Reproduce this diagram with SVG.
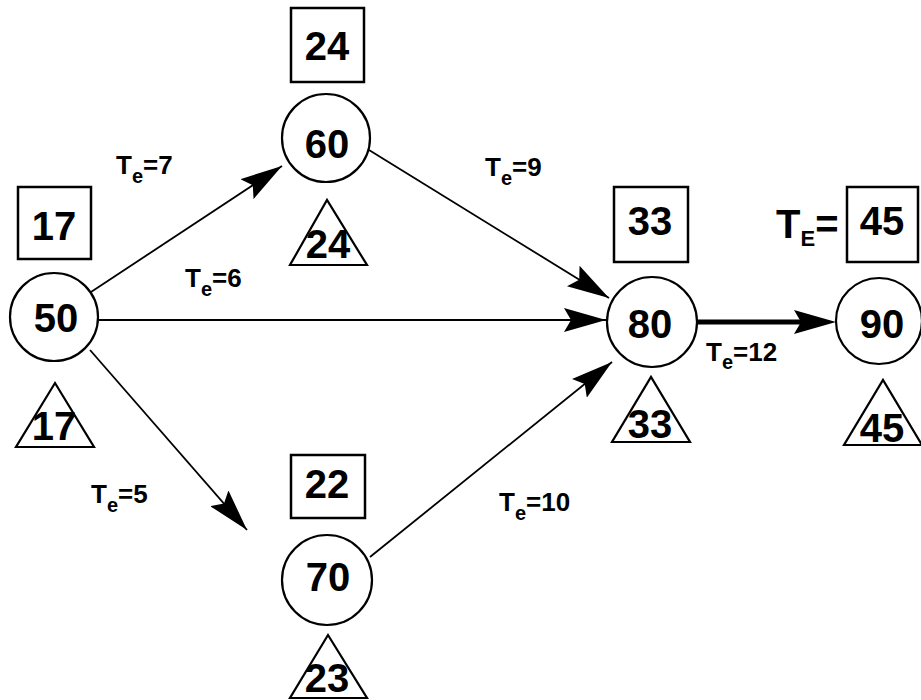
<svg xmlns="http://www.w3.org/2000/svg" width="921" height="700" viewBox="0 0 921 700">
<style>
.c{fill:#fff;stroke:#000;stroke-width:2.2}
.b{fill:#fff;stroke:#000;stroke-width:2.5}
.t{fill:none;stroke:#000;stroke-width:2.2;stroke-linejoin:miter}
.n{font-family:"Liberation Sans",Arial,sans-serif;font-weight:bold;font-size:40px;text-anchor:middle;fill:#000}
.l{font-family:"Liberation Sans",Arial,sans-serif;font-weight:bold;font-size:26px;fill:#000}
.s{font-size:20px}
.e{stroke:#000;stroke-width:1.8;fill:none}
</style>
<defs>
<marker id="ah" viewBox="0 0 42 24" refX="42" refY="12" markerWidth="42" markerHeight="24" markerUnits="userSpaceOnUse" orient="auto">
<path d="M0,0 L42,12 L0,24 L7,12 Z" fill="#000"/>
</marker>
<marker id="ah2" viewBox="0 0 42 24" refX="22" refY="12" markerWidth="42" markerHeight="24" markerUnits="userSpaceOnUse" orient="auto">
<path d="M0,0 L42,12 L0,24 L7,12 Z" fill="#000"/>
</marker>
</defs>
<g id="connectors">
<line class="e" x1="91" y1="292" x2="282" y2="166" marker-end="url(#ah)"/>
<line class="e" x1="369" y1="150" x2="609" y2="298" marker-end="url(#ah)"/>
<line class="e" x1="99" y1="320" x2="606" y2="320" marker-end="url(#ah)"/>
<line class="e" x1="90" y1="350" x2="247" y2="530" marker-end="url(#ah)"/>
<line class="e" x1="370" y1="557" x2="612" y2="362" marker-end="url(#ah)"/>
<line class="e" style="stroke-width:5" x1="697" y1="322" x2="816" y2="322" marker-end="url(#ah2)"/>
<text class="l" x="116" y="174">T<tspan class="s" dy="9">e</tspan><tspan dy="-9">=7</tspan></text>
<text class="l" x="485" y="176">T<tspan class="s" dy="9">e</tspan><tspan dy="-9">=9</tspan></text>
<text class="l" x="185" y="287">T<tspan class="s" dy="9">e</tspan><tspan dy="-9">=6</tspan></text>
<text class="l" x="91" y="503">T<tspan class="s" dy="9">e</tspan><tspan dy="-9">=5</tspan></text>
<text class="l" x="499" y="511">T<tspan class="s" dy="9">e</tspan><tspan dy="-9">=10</tspan></text>
<text class="l" x="706" y="361">T<tspan class="s" dy="8">e</tspan><tspan dy="-8">=12</tspan></text>
</g>
<g id="node50">
<rect class="b" x="18" y="187" width="73" height="72"/>
<text class="n" x="54" y="240">17</text>
<circle class="c" cx="54" cy="317" r="44"/>
<text class="n" x="56" y="332">50</text>
<polygon class="t" points="16,447 94,447 55,383"/>
<text class="n" x="54" y="440">17</text>
</g>
<g id="node60">
<rect class="b" x="291" y="8" width="73" height="74"/>
<text class="n" x="327" y="60">24</text>
<circle class="c" cx="326" cy="138" r="44"/>
<text class="n" x="327" y="158">60</text>
<polygon class="t" points="290,265 367,265 327,200"/>
<text class="n" x="328" y="258">24</text>
</g>
<g id="node80">
<rect class="b" x="614" y="187" width="74" height="75"/>
<text class="n" x="650" y="235">33</text>
<circle class="c" cx="652" cy="322" r="45"/>
<text class="n" x="650" y="338">80</text>
<polygon class="t" points="612,442 690,442 651,377"/>
<text class="n" x="650" y="438">33</text>
</g>
<g id="node90">
<text class="n" x="776" y="238" style="text-anchor:start">T<tspan style="font-size:22px" dy="8">E</tspan><tspan dy="-8">=</tspan></text>
<rect class="b" x="847" y="187" width="71" height="75"/>
<text class="n" x="882" y="235">45</text>
<circle class="c" cx="879" cy="321" r="43"/>
<text class="n" x="882" y="338">90</text>
<polygon class="t" points="844,445 922,445 883,380"/>
<text class="n" x="882" y="442">45</text>
</g>
<g id="node70">
<rect class="b" x="291" y="455" width="74" height="63"/>
<text class="n" x="327" y="498">22</text>
<circle class="c" cx="327" cy="580" r="45"/>
<text class="n" x="328" y="591">70</text>
<polygon class="t" points="290,698 367,698 328,635"/>
<text class="n" x="327" y="692">23</text>
</g>
</svg>
